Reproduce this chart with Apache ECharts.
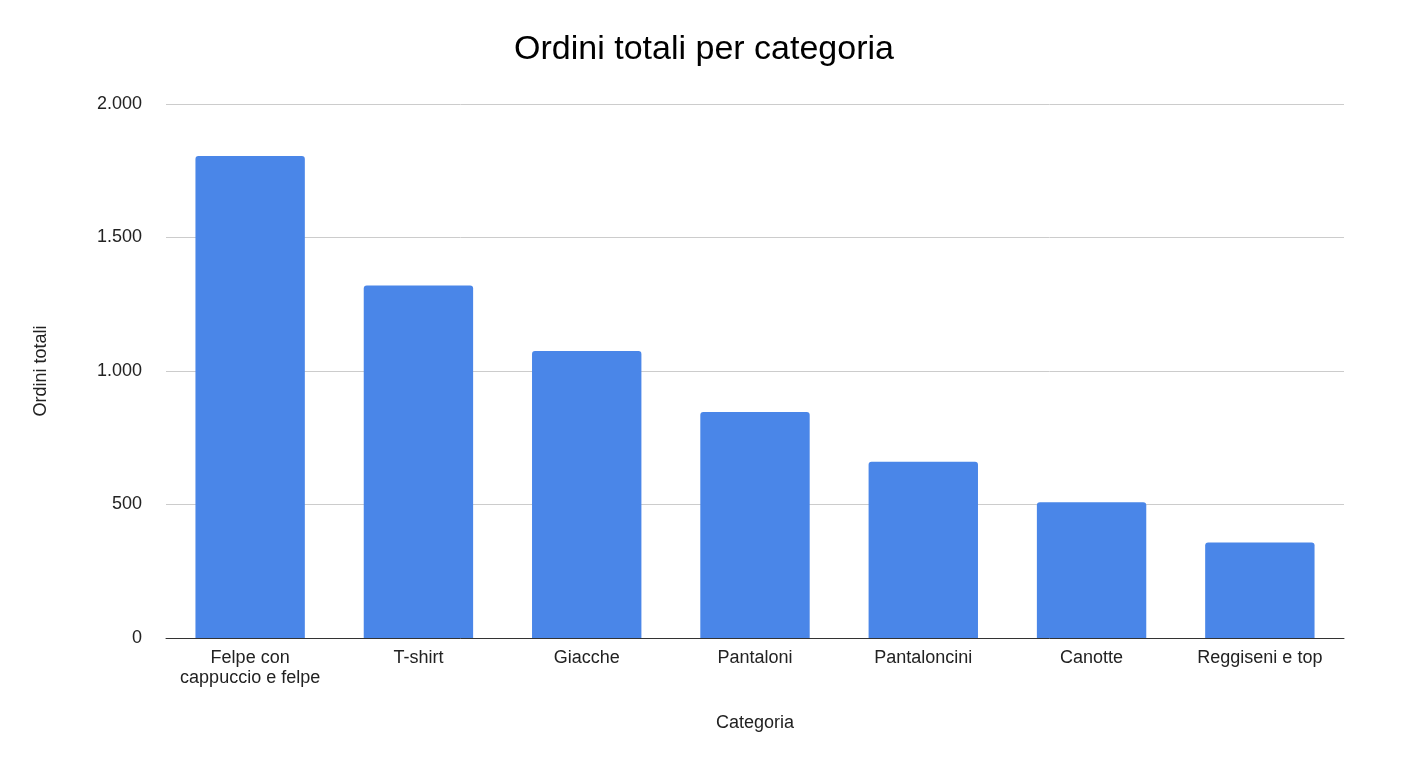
<!DOCTYPE html>
<html><head><meta charset="utf-8">
<script src="https://cdn.jsdelivr.net/npm/echarts@6/dist/echarts.min.js"></script>
<style>html,body{margin:0;padding:0;background:#fff}#c{width:1408px;height:768px}</style>
</head><body><div id="c"></div>
<script>
const categories = ["Felpe con\ncappuccio e felpe","T-shirt","Giacche","Pantaloni","Pantaloncini","Canotte","Reggiseni e top"];
const values = [1805,1320,1075,846,660,508,358];
const yTickLabels = {0:'0',500:'500',1000:'1.000',1500:'1.500',2000:'2.000'};
const chart = echarts.init(document.getElementById('c'));
chart.setOption({
  animation:false,
  textStyle:{fontFamily:'Arial, Liberation Sans, sans-serif'},
  title:{text:'Ordini totali per categoria',left:'center',top:28,textStyle:{fontSize:34,fontWeight:'normal',color:'#000'}},
  grid:{left:166,right:64,top:104,bottom:130},
  xAxis:{type:'category',data:categories,name:'Categoria',nameLocation:'middle',nameGap:76,
    nameTextStyle:{fontSize:18,color:'#222'},
    axisLine:{lineStyle:{color:'#333'}},axisTick:{show:false},
    axisLabel:{interval:0,fontSize:18,color:'#222',margin:10,lineHeight:20}},
  yAxis:{type:'value',min:0,max:2000,interval:500,name:'Ordini totali',nameLocation:'middle',nameGap:116,
    nameTextStyle:{fontSize:18,color:'#222'},
    axisLabel:{fontSize:18,color:'#222',margin:24,formatter:v=>yTickLabels[v]},
    splitLine:{lineStyle:{color:'#ccc'}}},
  series:[{type:'bar',data:values,barWidth:'65%',itemStyle:{color:'#4a86e8',borderRadius:[3,3,0,0]}}]
});
</script></body></html>
